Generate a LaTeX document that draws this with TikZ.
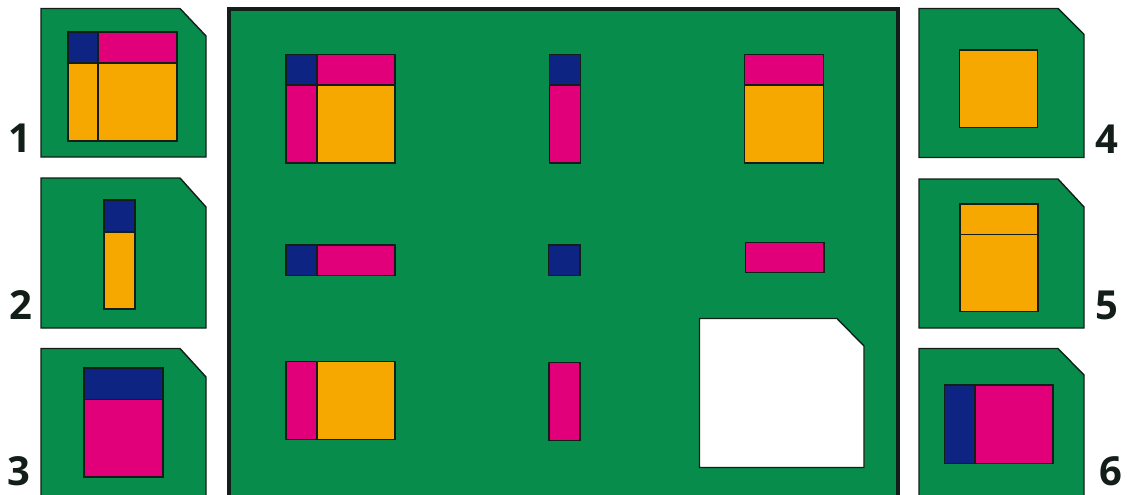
\documentclass[tikz,border=0pt]{standalone}
\usepackage{fontspec}
\setmainfont{Open Sans}
\definecolor{cardgreen}{RGB}{8,140,76}
\definecolor{cpink}{RGB}{226,0,122}
\definecolor{corange}{RGB}{247,168,0}
\definecolor{cblue}{RGB}{14,36,130}
\definecolor{cedge}{RGB}{20,30,25}
\tikzset{
  card/.style={draw=cedge, line width=1.4pt, fill=cardgreen, line join=miter},
  part/.style={draw=cedge, line width=1.3pt},
  board/.style={draw=cedge, line width=4pt, fill=cardgreen},
  num/.style={font=\fontsize{40}{40}\selectfont\bfseries, text=cedge, anchor=base, inner sep=0pt}
}
\begin{document}
\begin{tikzpicture}[x=1pt,y=-1pt]
\useasboundingbox (0,0) rectangle (1127,495);
% main board
\draw[board] (228.5,9.5) rectangle (898,502);
% left cards
\draw[card] (41,8.5) -- (180,8.5) -- (206,36) -- (206,157) -- (41,157) -- cycle;
\draw[card] (41,178) -- (180,178) -- (206,207) -- (206,328) -- (41,328) -- cycle;
\draw[card] (41,348.5) -- (180,348.5) -- (206,377) -- (206,510) -- (41,510) -- cycle;
% right cards
\draw[card] (919,8.5) -- (1058,8.5) -- (1084,34.5) -- (1084,157.5) -- (919,157.5) -- cycle;
\draw[card] (919,179) -- (1058,179) -- (1084,207) -- (1084,328) -- (919,328) -- cycle;
\draw[card] (919,348.5) -- (1058,348.5) -- (1084,375) -- (1084,510) -- (919,510) -- cycle;
% white card slot
\draw[card, fill=white] (699.5,318.5) -- (837,318.5) -- (864,346) -- (864,467.5) -- (699.5,467.5) -- cycle;
% card 1 contents
\draw[part, fill=cblue] (68,32) rectangle (98,63);
\draw[part, fill=cpink] (98,32) rectangle (177,63);
\draw[part, fill=corange] (68,63) rectangle (98,141);
\draw[part, fill=corange] (98,63) rectangle (177,141);
% card 2 contents
\draw[part, fill=cblue] (104,200) rectangle (135,232);
\draw[part, fill=corange] (104,232) rectangle (135,309);
% card 3 contents
\draw[part, fill=cblue] (84,368) rectangle (163,399.5);
\draw[part, fill=cpink] (84,399.5) rectangle (163,477);
% card 4 contents
\draw[part, fill=corange] (959.5,50) rectangle (1037.5,127.5);
% card 5 contents
\draw[part, fill=corange] (960,204) rectangle (1038,234.5);
\draw[part, fill=corange] (960,234.5) rectangle (1038,311.5);
% card 6 contents
\draw[part, fill=cblue] (944.5,385) rectangle (975,463.5);
\draw[part, fill=cpink] (975,385) rectangle (1053,463.5);
% board row 1
\draw[part, fill=cblue] (286,54.5) rectangle (317,85);
\draw[part, fill=cpink] (317,54.5) rectangle (395,85);
\draw[part, fill=cpink] (286,85) rectangle (317,163);
\draw[part, fill=corange] (317,85) rectangle (395,163);
\draw[part, fill=cblue] (549.5,54.5) rectangle (580.5,85);
\draw[part, fill=cpink] (549.5,85) rectangle (580.5,163);
\draw[part, fill=cpink] (744.5,54.5) rectangle (823.5,85);
\draw[part, fill=corange] (744.5,85) rectangle (823.5,163);
% board row 2
\draw[part, fill=cblue] (286,245) rectangle (317,275.5);
\draw[part, fill=cpink] (317,245) rectangle (395,275.5);
\draw[part, fill=cblue] (548.5,245) rectangle (580,275.5);
\draw[part, fill=cpink] (745.5,242.5) rectangle (824,272.5);
% board row 3
\draw[part, fill=cpink] (286,361.5) rectangle (317,439.5);
\draw[part, fill=corange] (317,361.5) rectangle (395,439.5);
\draw[part, fill=cpink] (549,362.5) rectangle (580,440.5);
% numbers
\node[num] (n1) at (20,152) {1};
\node[num] (n2) at (21,319) {2};
\node[num] (n3) at (19,485) {3};
\node[num] (n4) at (1106.5,153) {4};
\node[num] (n5) at (1106.5,319) {5};
\node[num] (n6) at (1111,485) {6};
\end{tikzpicture}
\end{document}
